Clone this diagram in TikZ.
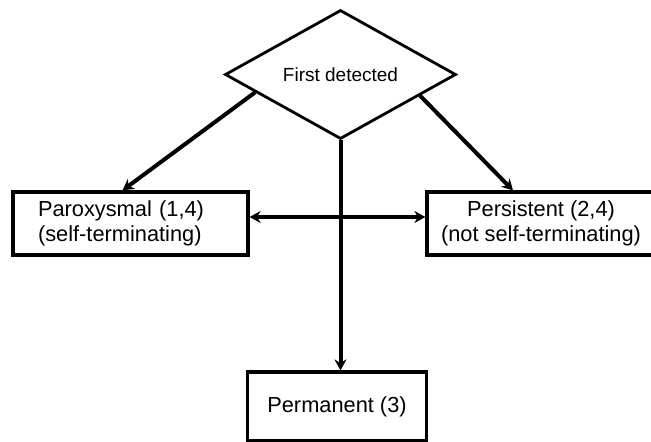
\documentclass[tikz,border=0pt]{standalone}
\usepackage{fontspec}
\setmainfont{Liberation Sans}
\usetikzlibrary{shapes,arrows.meta,calc}

\begin{document}
\begin{tikzpicture}[x=1pt,y=-1pt]
        % Define styles
        \tikzstyle{decision} = [diamond, draw, line width=2.8pt, minimum width=231pt,
            minimum height=125pt, inner sep=0pt, font=\fontsize{19}{22}\selectfont]
        \tikzstyle{block} = [rectangle, draw, line width=3.2pt, minimum height=63pt,
            font=\fontsize{21.8}{25}\selectfont]
        \tikzstyle{arrow} = [line width=4pt,->,>={Stealth[length=11pt,width=12pt]}]
        \useasboundingbox (0,0) rectangle (651,442);

        % Nodes
        \node [decision] (first) at (340.5,74.5) {\raisebox{-3pt}{First detected}};
        \node [block, text width=185pt, inner xsep=25pt, align=left] (parox) at (130.5,223.5) {Paroxysmal (1,4)\\(self-terminating)};
        \node [block, minimum width=228pt, align=center] (persist) at (541,223.5) {Persistent (2,4)\\(not self-terminating)};
        \node [block, minimum width=179pt, minimum height=69pt] (perm) at (337,406.5) {Permanent (3)};

        % Arrows
        \draw [arrow] ($(first.west)!0.27!(first.south)$) -- ([xshift=-8pt]parox.north);
        \draw [arrow] ($(first.east)!0.32!(first.south)$) -- ([xshift=-28pt]persist.north);
        \draw [arrow] (first.south) -- (first.south |- perm.north);
        \draw [arrow, <->, line width=3.4pt] ([yshift=6.5pt]parox.east) -- ([yshift=6.5pt]persist.west);

    \end{tikzpicture}
\end{document}
